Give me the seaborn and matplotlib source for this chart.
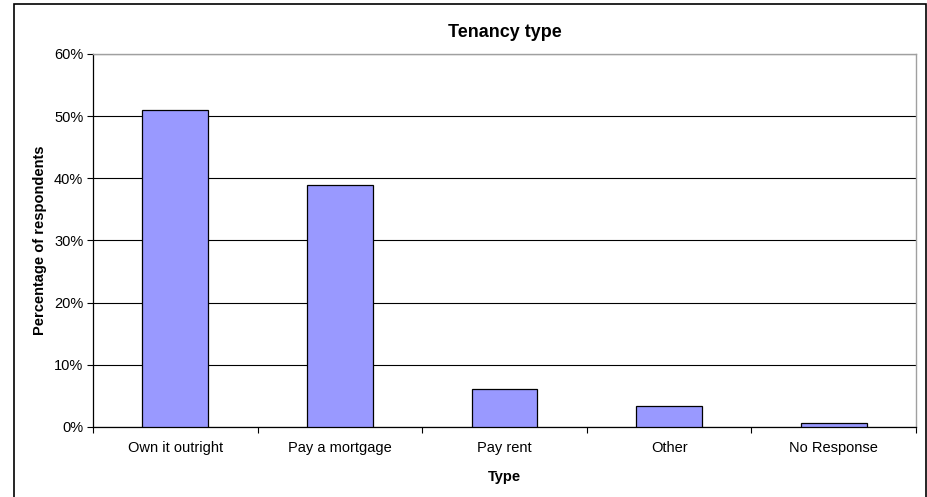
import matplotlib
matplotlib.use("Agg")
import matplotlib.pyplot as plt
import matplotlib.patches as patches
from matplotlib.ticker import PercentFormatter, FixedLocator
import seaborn as sns
import pandas as pd

# data
categories = ['Own it outright', 'Pay a mortgage', 'Pay rent', 'Other', 'No Response']
percent = [51.0, 39.0, 6.1, 3.4, 0.7]

df = pd.DataFrame({'type': categories, 'pct': percent})

sns.set_style('white')
plt.rcParams['font.family'] = ['Liberation Sans', 'DejaVu Sans']
plt.rcParams['text.color'] = 'black'
plt.rcParams['axes.labelcolor'] = 'black'
plt.rcParams['xtick.color'] = 'black'
plt.rcParams['ytick.color'] = 'black'

fig = plt.figure(figsize=(9.28, 4.97), dpi=100)
ax = fig.add_axes([93 / 928, 1 - 427 / 497, (916 - 93) / 928, (427 - 54) / 497])

sns.barplot(data=df, x='type', y='pct', color='#9999ff', width=0.4,
            edgecolor='black', linewidth=0.9, saturation=1, ax=ax, zorder=3)

ax.set_ylim(0, 60)
ax.set_xlim(-0.5, len(categories) - 0.5)
ax.set_yticks(range(0, 61, 10))
ax.yaxis.set_major_formatter(PercentFormatter(decimals=0))
ax.yaxis.grid(True, color='black', linewidth=0.8, zorder=0)
ax.set_axisbelow(True)

# x ticks between categories, labels centered
ax.set_xticks(range(len(categories)))
ax.set_xticklabels(categories, fontsize=10.5)
ax.xaxis.set_minor_locator(FixedLocator([i + 0.5 for i in range(-1, len(categories))]))
ax.tick_params(axis='x', which='major', length=0, pad=10)
ax.tick_params(axis='x', which='minor', length=4, width=0.8, direction='out', color='black', bottom=True)
ax.tick_params(axis='y', length=4, width=0.8, direction='out', color='black', left=True, labelsize=10.5, pad=3)

for side in ['left', 'bottom']:
    ax.spines[side].set_color('black')
    ax.spines[side].set_linewidth(0.9)
for side in ['top', 'right']:
    ax.spines[side].set_color('#a0a0a0')
    ax.spines[side].set_linewidth(1.0)

ax.set_xlabel('Type', fontsize=10.5, fontweight='bold', labelpad=11)
ax.set_ylabel('Percentage of respondents', fontsize=10.5, fontweight='bold', labelpad=5)
ax.set_title('Tenancy type', fontsize=13, fontweight='bold', pad=12)

# outer chart frame
fig.patches.append(patches.Rectangle((14 / 928, -0.05), (926 - 14) / 928, 1.05 - 4 / 497,
                                     transform=fig.transFigure, fill=False,
                                     edgecolor='black', linewidth=1.2))

fig.savefig('out.png', dpi=100)
